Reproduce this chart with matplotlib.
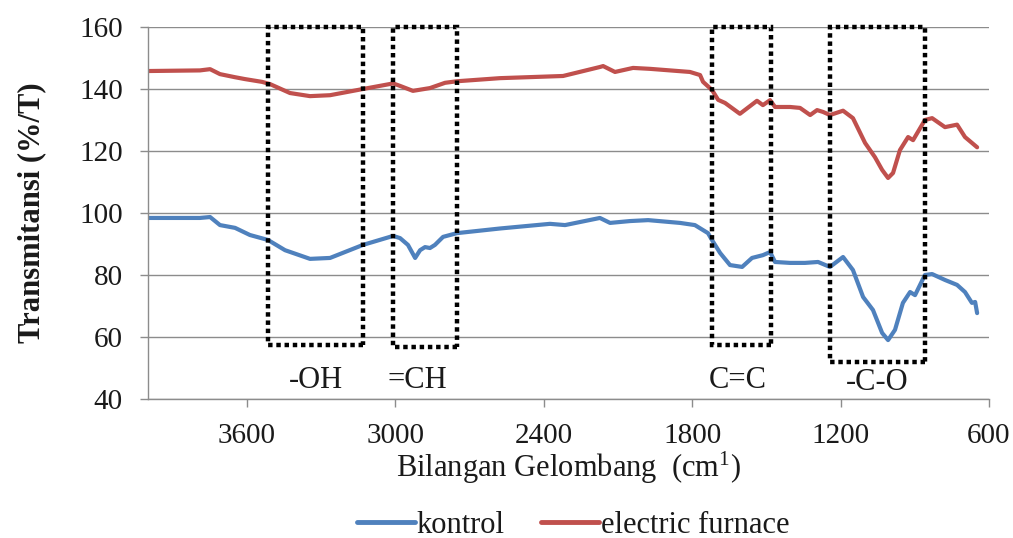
import matplotlib
matplotlib.use("Agg")
import matplotlib.pyplot as plt
from matplotlib.patches import Rectangle

plt.rcParams['font.family'] = ['Liberation Serif', 'DejaVu Serif']
plt.rcParams['mathtext.fontset'] = 'custom'
plt.rcParams['mathtext.rm'] = 'Liberation Serif'

# ---- data ----
furnace_wn = [4000, 3790, 3749, 3709, 3648, 3608, 3539, 3507, 3426, 3345, 3264, 3131,
              3009, 2981, 2929, 2860, 2799, 2751, 2577, 2322, 2173, 2160, 2112, 2039,
              1970, 1809, 1768, 1756, 1720, 1695, 1667, 1607, 1538, 1514, 1485, 1465,
              1404, 1364, 1323, 1295, 1271, 1243, 1190, 1150, 1101, 1061, 1032, 1008,
              988, 960, 927, 907, 859, 830, 778, 729, 697, 648]
furnace_T = [145.8, 146.0, 146.4, 144.8, 143.8, 143.2, 142.3, 141.6, 138.7, 137.7, 138.0, 140.0,
             141.8, 141.0, 139.4, 140.3, 142.0, 142.5, 143.5, 144.2, 147.1, 147.4, 145.5, 146.8,
             146.5, 145.5, 144.5, 142.3, 139.7, 136.5, 135.5, 132.0, 136.2, 134.8, 136.4, 134.2,
             134.2, 133.9, 131.6, 133.2, 132.6, 131.6, 133.0, 130.6, 122.6, 118.0, 113.9, 111.3,
             112.9, 120.3, 124.5, 123.5, 130.0, 130.6, 127.7, 128.5, 124.5, 121.2]

kontrol_wn = [4000, 3790, 3749, 3709, 3648, 3588, 3515, 3446, 3345, 3264, 3131, 3009,
              2981, 2949, 2920, 2900, 2880, 2860, 2840, 2807, 2751, 2577, 2375, 2314,
              2173, 2132, 2051, 1978, 1849, 1789, 1736, 1720, 1687, 1647, 1598, 1558,
              1514, 1485, 1465, 1404, 1344, 1291, 1243, 1190, 1150, 1109, 1069, 1032,
              1008, 980, 948, 919, 899, 859, 830, 778, 729, 697, 669, 656, 648]
kontrol_T = [98.4, 98.4, 98.7, 96.1, 95.2, 92.9, 91.3, 88.0, 85.2, 85.5, 89.7, 92.6,
             91.9, 89.7, 85.5, 88.0, 89.0, 88.7, 89.7, 92.3, 93.5, 95.0, 96.5, 96.1,
             98.4, 96.8, 97.4, 97.7, 96.8, 96.1, 93.5, 91.3, 87.1, 83.2, 82.6, 85.5,
             86.4, 87.4, 84.2, 83.9, 83.9, 84.2, 82.6, 85.8, 81.6, 72.9, 68.7, 61.3,
             59.0, 62.3, 71.0, 74.5, 73.5, 80.0, 80.3, 78.4, 76.8, 74.5, 71.0, 71.3, 67.7]

# highlighted regions
region_labels = ["-OH", "=CH", "C=C", "-C-O"]
region_left = [3515, 3009, 1720, 1243]
region_right = [3131, 2751, 1481, 858]
region_bottom = [57.4, 56.8, 57.4, 51.9]
region_top = 160
label_wn = [3321, 2912, 1615, 1053]
label_T = [46.1, 46.1, 46.1, 45.2]

x_ticks = [3600, 3000, 2400, 1800, 1200, 600]
y_ticks = [40, 60, 80, 100, 120, 140, 160]

# ---- figure ----
fig = plt.figure(figsize=(10.13, 5.38), dpi=100)
ax = fig.add_axes([0.1461, 0.2584, 0.8302, 0.6914])

txt_c = '#1a1a1a'
grid_c = '#8c8c8c'
ax.set_xlim(4000, 600)
ax.set_ylim(40, 160)
ax.set_xticks(x_ticks)
ax.set_yticks(y_ticks)
ax.yaxis.grid(True, color=grid_c, linewidth=1.0)
ax.set_axisbelow(True)
for s in ['top', 'right']:
    ax.spines[s].set_visible(False)
for s in ['left', 'bottom']:
    ax.spines[s].set_color(grid_c)
    ax.spines[s].set_linewidth(1.0)
ax.tick_params(axis='both', colors=grid_c, length=6, width=1.0, direction='out',
               labelsize=21, labelcolor=txt_c)
ax.tick_params(axis='x', pad=11)
ax.tick_params(axis='y', pad=12)

ax.plot(kontrol_wn, kontrol_T, color='#4F81BD', linewidth=3.0, label='kontrol',
        solid_joinstyle='round', solid_capstyle='round')
ax.plot(furnace_wn, furnace_T, color='#C0504D', linewidth=3.0, label='electric furnace',
        solid_joinstyle='round', solid_capstyle='round')

for lab, l, r, b, lx, ly in zip(region_labels, region_left, region_right, region_bottom,
                                label_wn, label_T):
    rect = Rectangle((r, b), l - r, region_top - b, fill=False, edgecolor='black',
                     linewidth=3.2, linestyle=(0, (1, 0.85)), clip_on=False, zorder=5)
    ax.add_patch(rect)
    ax.text(lx, ly, lab, ha='center', va='center', fontsize=22, color=txt_c)

ax.set_xlabel(r'Bilangan Gelombang  (cm$\mathregular{^{1}}$)', fontsize=22, color=txt_c,
              labelpad=1)
ax.set_ylabel('Transmitansi (%/T)', fontsize=22, fontweight='bold', color=txt_c,
              labelpad=24)

leg = fig.legend(loc='center', bbox_to_anchor=(0.566, 0.024), ncol=2, frameon=False,
                 fontsize=22, handlelength=1.9, handletextpad=0.05, columnspacing=1.2,
                 borderpad=0.0)
for t in leg.get_texts():
    t.set_color(txt_c)
for h in leg.get_lines():
    h.set_linewidth(3.5)

fig.savefig('out.png', dpi=100)
